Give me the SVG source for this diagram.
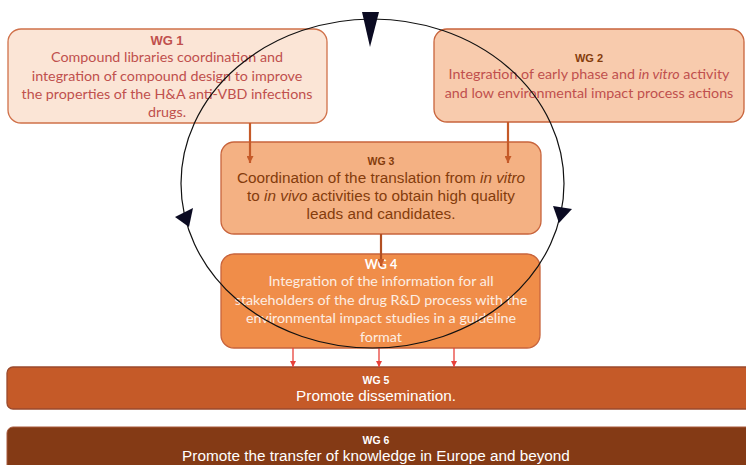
<svg xmlns="http://www.w3.org/2000/svg" width="746" height="465" viewBox="0 0 746 465">
<style>
.box{stroke-width:1.3}
.t{font-family:"Liberation Sans",Arial,sans-serif;font-weight:bold;text-anchor:middle}
.c{font-family:Lato,"Liberation Sans",sans-serif;text-anchor:middle}
.a{font-family:"Liberation Sans",Arial,sans-serif;text-anchor:middle}
.red{fill:#c0504d}
.brown{fill:#843c0c}
.wh{fill:#ffffff}
</style>
<defs>
<marker id="ah" viewBox="0 0 10 10" refX="10" refY="5" markerWidth="7" markerHeight="7" orient="auto" markerUnits="userSpaceOnUse">
<path d="M0,0 L10,5 L0,10 z" fill="#c55a28"/>
</marker>
<marker id="ahr" viewBox="0 0 10 10" refX="10" refY="5" markerWidth="6" markerHeight="6" orient="auto" markerUnits="userSpaceOnUse">
<path d="M0,0 L10,5 L0,10 z" fill="#e8413a"/>
</marker>
</defs>
<rect width="746" height="465" fill="#ffffff"/>
<g id="wg1">
<rect class="box" x="8" y="29" width="319" height="94" rx="13" fill="#fbe5d6" stroke="#d0714a"/>
<text class="t red" x="167" y="45" font-size="13">WG 1</text>
<text class="c red" font-size="14.3"><tspan x="167" y="62">Compound libraries coordination and</tspan><tspan x="167" y="81">integration of compound design  to improve</tspan><tspan x="167" y="99">the properties of the H&amp;A anti-VBD infections</tspan><tspan x="167" y="117">drugs.</tspan></text>
</g>
<g id="wg2">
<rect class="box" x="434" y="29" width="310" height="93" rx="13" fill="#f8cbad" stroke="#c8643c"/>
<text class="t brown" x="589" y="62" font-size="11">WG 2</text>
<text class="c red" font-size="14.3"><tspan x="589" y="79">Integration of early phase and <tspan font-style="italic">in vitro</tspan> activity</tspan><tspan x="589" y="98">and low environmental impact process actions</tspan></text>
</g>
<g id="wg3">
<rect class="box" x="221" y="142" width="320" height="92" rx="13" fill="#f4b183" stroke="#c8643c"/>
<text class="t brown" x="381" y="165" font-size="10.5">WG 3</text>
<text class="a brown" font-size="15.3"><tspan x="381" y="183">Coordination of the translation from <tspan font-style="italic">in vitro</tspan></tspan><tspan x="381" y="201">to <tspan font-style="italic">in vivo</tspan> activities to obtain high quality</tspan><tspan x="381" y="219">leads and candidates.</tspan></text>
</g>
<g id="wg4">
<rect class="box" x="221" y="254" width="319" height="94" rx="13" fill="#f08d49" stroke="#c8643c"/>
<text class="c wh" x="381" y="269" font-size="12.5" font-weight="bold">WG 4</text>
<text class="c" fill="#fdeee3" font-size="14.3"><tspan x="381" y="286">Integration of the information for all</tspan><tspan x="381" y="305">stakeholders of the drug R&amp;D process with the</tspan><tspan x="381" y="323">environmental impact studies in a guideline</tspan><tspan x="381" y="342">format</tspan></text>
</g>
<g id="wg5">
<rect x="7" y="367" width="745" height="42" rx="6" fill="#c55a28" stroke="#9a4a2c" stroke-width="1.3"/>
<text class="t wh" x="376" y="384" font-size="10.5">WG 5</text>
<text class="a wh" x="376" y="401" font-size="15.3">Promote dissemination.</text>
</g>
<g id="wg6">
<rect x="7" y="427" width="745" height="50" rx="6" fill="#843a15" stroke="#a85a3c" stroke-width="1"/>
<text class="t wh" x="376" y="444" font-size="10.5">WG 6</text>
<text class="a wh" x="376" y="461" font-size="15.3">Promote the transfer of knowledge in Europe and beyond</text>
</g>
<g id="connectors">
<line x1="250" y1="123" x2="250" y2="163" stroke="#c55a28" stroke-width="2.2" marker-end="url(#ah)"/>
<line x1="508" y1="122" x2="508" y2="163" stroke="#c55a28" stroke-width="2.2" marker-end="url(#ah)"/>
<line x1="381" y1="234" x2="381" y2="266" stroke="#b24f22" stroke-width="2.2" marker-end="url(#ah)"/>
<line x1="293" y1="348" x2="293" y2="367" stroke="#e8413a" stroke-width="1.3" marker-end="url(#ahr)"/>
<line x1="379" y1="348" x2="379" y2="367" stroke="#e8413a" stroke-width="1.3" marker-end="url(#ahr)"/>
<line x1="454" y1="348" x2="454" y2="367" stroke="#e8413a" stroke-width="1.3" marker-end="url(#ahr)"/>
<ellipse cx="372.5" cy="183.5" rx="191.5" ry="164.5" fill="none" stroke="#111111" stroke-width="1.2"/>
<polygon points="362,12 379,12 370,47" fill="#0b0b22"/>
<polygon points="175,217 193,208 189,227" fill="#0b0b22"/>
<polygon points="553,206 572,209 559,223" fill="#0b0b22"/>
</g>
</svg>
